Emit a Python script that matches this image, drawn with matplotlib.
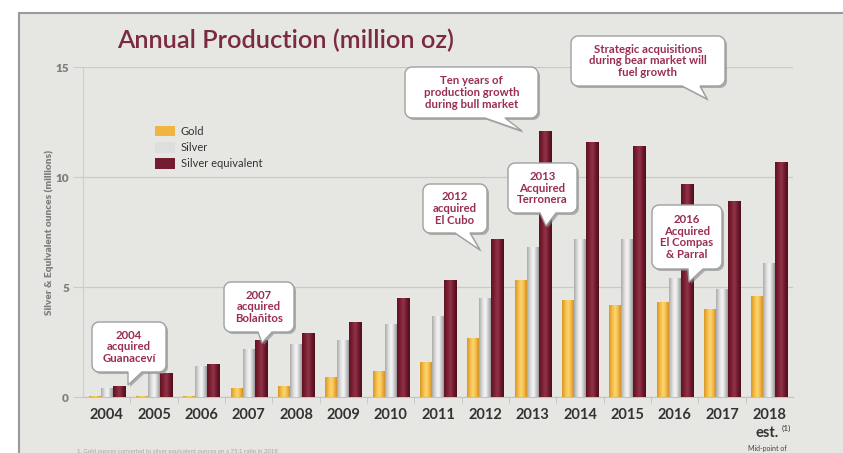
import numpy as np
import matplotlib
matplotlib.use("Agg")
import matplotlib.pyplot as plt
from matplotlib.colors import LinearSegmentedColormap
from matplotlib.patches import Patch, Rectangle, PathPatch
from matplotlib.path import Path

years = ["2004", "2005", "2006", "2007", "2008", "2009", "2010", "2011",
         "2012", "2013", "2014", "2015", "2016", "2017", "2018"]
gold = [0.05, 0.05, 0.05, 0.4, 0.5, 0.9, 1.2, 1.6, 2.7, 5.3, 4.4, 4.2, 4.3, 4.0, 4.6]
silver = [0.4, 1.1, 1.4, 2.2, 2.4, 2.6, 3.3, 3.7, 4.5, 6.8, 7.2, 7.2, 5.4, 4.9, 6.1]
silver_eq = [0.5, 1.1, 1.5, 2.6, 2.9, 3.4, 4.5, 5.3, 7.2, 12.1, 11.6, 11.4, 9.7, 8.9, 10.7]

series_names = ["Gold", "Silver", "Silver equivalent"]

W, H = 843, 453
BG = "#e6e6e2"
FONT = ["Lato", "DejaVu Sans"]
plt.rcParams["font.family"] = FONT

# gradient ramps across each bar: dark edge, highlight, dark edge
ramps = {
    "Gold": ["#d8952a", "#f4bc44", "#fbd878", "#f0b03a", "#c48420"],
    "Silver": ["#a9a9a9", "#dcdcdc", "#f8f8f8", "#c4c4c4", "#8a8a8a"],
    "Silver equivalent": ["#5e1323", "#7a2033", "#93344a", "#6e1a2c", "#4e0e1c"],
}
solid = {"Gold": "#f0b440", "Silver": "#dedede", "Silver equivalent": "#741d30"}


def px(x, y):
    return x / W, 1 - y / H


def bubble(fig, box, tail, text, fs=8.2):
    x0, y0, x1, y1 = box
    b0, b1, tx, ty = tail
    r = 7
    pts = []

    def arc(cx, cy, a0, a1):
        for a in np.linspace(a0, a1, 10):
            pts.append((cx + r * np.cos(a), cy + r * np.sin(a)))

    arc(x0 + r, y0 + r, np.pi, 1.5 * np.pi)
    arc(x1 - r, y0 + r, 1.5 * np.pi, 2 * np.pi)
    arc(x1 - r, y1 - r, 0, 0.5 * np.pi)
    pts += [(b1, y1), (tx, ty), (b0, y1)]
    arc(x0 + r, y1 - r, 0.5 * np.pi, np.pi)
    pts.append(pts[0])

    for dx, dy, fc, ec, a in [(2, 2, "#858585", "none", 0.6), (0, 0, "white", "#a0a0a0", 1)]:
        verts = [px(x + dx, y + dy) for x, y in pts]
        codes = [Path.MOVETO] + [Path.LINETO] * (len(verts) - 2) + [Path.CLOSEPOLY]
        fig.add_artist(PathPatch(Path(verts, codes), facecolor=fc, edgecolor=ec,
                                 lw=1.0, alpha=a, transform=fig.transFigure))
    cx, cy = px((x0 + x1) / 2, (y0 + y1) / 2)
    fig.text(cx, cy, text, ha="center", va="center", fontsize=fs, color="#9a2d54",
             fontweight="bold", linespacing=1.1)


fig = plt.figure(figsize=(W / 100, H / 100), dpi=100)
fig.patch.set_facecolor("white")
fig.add_artist(Rectangle(px(19, 460), (W + 10) / W, 447 / H, transform=fig.transFigure,
                         facecolor=BG, edgecolor="#9a9a9a", lw=1.5, zorder=0))

ax = fig.add_axes([83 / W, 1 - 397 / H, 710 / W, 330 / H])
ax.set_facecolor("none")

x = np.arange(len(years))
width = 0.255
offsets = [-0.255, 0.0, 0.255]
for name, vals, off in zip(series_names, [gold, silver, silver_eq], offsets):
    bars = ax.bar(x + off, vals, width, color=solid[name], zorder=3, linewidth=0)
    cmap = LinearSegmentedColormap.from_list(name, ramps[name])
    grad = np.linspace(0, 1, 64).reshape(1, -1)
    for b in bars:
        bx, bw, bh = b.get_x(), b.get_width(), b.get_height()
        im = ax.imshow(grad, extent=[bx, bx + bw, 0, bh], aspect="auto", cmap=cmap,
                       zorder=4, interpolation="bicubic")
        im.set_clip_path(b)

ax.set_xlim(-0.5, len(years) - 0.5)
ax.set_ylim(0, 15)
ax.set_yticks([0, 5, 10, 15])
ax.yaxis.grid(True, color="#c9c9c5", lw=0.9, zorder=0)
ax.set_axisbelow(True)

for side in ["top", "right"]:
    ax.spines[side].set_visible(False)
ax.spines["left"].set_color("#cfcfcb")
ax.spines["bottom"].set_color("#c2c2be")

ax.set_xticks(x)
ax.set_xticklabels(years, fontsize=10.5, fontweight="bold", color="#333333")
ax.tick_params(axis="x", length=0, pad=8)
ax.set_xticks(x[:-1] + 0.5, minor=True)
ax.tick_params(axis="x", which="minor", length=4, color="#c2c2be")
ax.tick_params(axis="y", length=7, color="#c9c9c5", labelsize=8.5, labelcolor="#7e7e7e", pad=3)
for lab in ax.get_yticklabels():
    lab.set_fontweight("heavy")

ax.set_ylabel("Silver & Equivalent ounces (millions)", fontsize=7.3, fontweight="heavy",
              color="#7e7e7e", labelpad=1)

# 2018 estimate note under the last tick
ax.text(14 - 0.05, -0.108, "est.", transform=ax.get_xaxis_transform(), ha="center",
        va="center", fontsize=10.5, fontweight="bold", color="#333333")
ax.text(14 + 0.36, -0.094, "(1)", transform=ax.get_xaxis_transform(), ha="center",
        va="center", fontsize=6, color="#333333")
ax.text(14 - 0.05, -0.155, "Mid-point of", transform=ax.get_xaxis_transform(), ha="center",
        va="center", fontsize=5, color="#444444")

handles = [Patch(facecolor=solid[n], edgecolor="none") for n in series_names]
ax.legend(handles, series_names, loc="upper left", bbox_to_anchor=(0.102, 0.822),
          frameon=False, fontsize=8, handlelength=1.8, handleheight=1.1,
          handletextpad=0.5, labelspacing=0.45, borderpad=0, borderaxespad=0,
          labelcolor="#333333")

fig.text(117 / W, 1 - 48 / H, "Annual Production (million oz)", fontsize=18.3,
         fontweight="semibold", color="#7b2b3e", va="baseline")

fig.text(77 / W, 1 - 452 / H,
         "1. Gold ounces converted to silver equivalent ounces on a 75:1 ratio in 2018",
         fontsize=4.3, color="#a5a5a5", va="center")

bubble(fig, (92, 322, 166, 372), (128, 142, 128, 385), "2004\nacquired\nGuanaceví")
bubble(fig, (224, 282, 294, 332), (258, 272, 262, 343), "2007\nacquired\nBolañitos")
bubble(fig, (423, 184, 487, 233), (455, 470, 480, 250), "2012\nacquired\nEl Cubo")
bubble(fig, (508, 163, 577, 213), (540, 556, 546, 226), "2013\nAcquired\nTerronera")
bubble(fig, (405, 67, 538, 118), (485, 505, 522, 131), "Ten years of\nproduction growth\nduring bull market")
bubble(fig, (571, 36, 725, 86), (682, 700, 707, 99), "Strategic acquisitions\nduring bear market will\nfuel growth")
bubble(fig, (652, 205, 722, 269), (688, 703, 689, 282), "2016\nAcquired\nEl Compas\n& Parral")

fig.savefig("out.png", dpi=100)
